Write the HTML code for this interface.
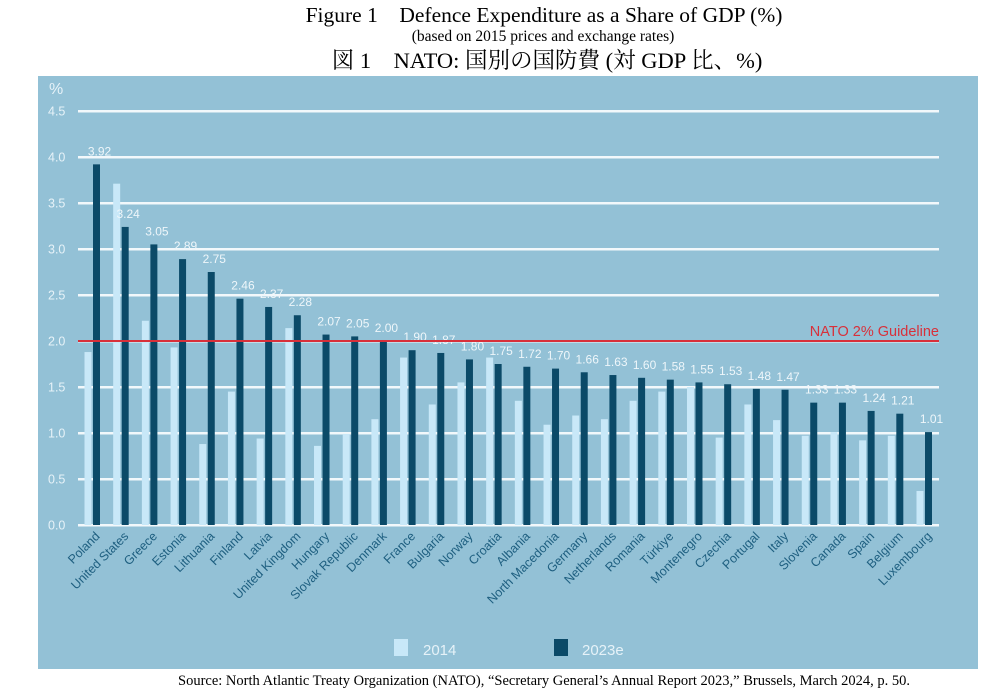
<!DOCTYPE html>
<html><head><meta charset="utf-8"><style>
body{margin:0;background:#fff;width:996px;height:699px;overflow:hidden}
svg{display:block}
</style></head><body>
<svg id="s" width="996" height="699" xmlns="http://www.w3.org/2000/svg">
<text x="544" y="22" text-anchor="middle" font-family="Liberation Serif, serif" font-size="21.5">Figure 1　Defence Expenditure as a Share of GDP (%)</text>
<text x="543" y="41" text-anchor="middle" font-family="Liberation Serif, serif" font-size="15.5">(based on 2015 prices and exchange rates)</text>
<text x="547" y="68" text-anchor="middle" font-family="Liberation Serif, 'Noto Serif CJK SC', serif" font-size="22.5">図 1　NATO: 国別の国防費 (対 GDP 比、%)</text>
<rect x="38" y="76" width="940" height="593" fill="#93c1d6"/>
<g id="g" font-family="Liberation Sans, sans-serif"></g>
<rect x="394" y="639" width="14" height="17" fill="#c8e8f8"/>
<text x="423" y="655" font-family="Liberation Sans, sans-serif" font-size="15" fill="#e6f2f8">2014</text>
<rect x="554" y="639" width="14" height="17" fill="#0b4a68"/>
<text x="582" y="655" font-family="Liberation Sans, sans-serif" font-size="15" fill="#e6f2f8">2023e</text>
<text x="178" y="685" font-family="Liberation Serif, serif" font-size="14.5">Source: North Atlantic Treaty Organization (NATO), “Secretary General’s Annual Report 2023,” Brussels, March 2024, p. 50.</text>
</svg>
<script>
var g=document.getElementById('g'),NS='http://www.w3.org/2000/svg';
function el(t,a,txt){var e=document.createElementNS(NS,t);for(var k in a)e.setAttribute(k,a[k]);if(txt!=null)e.textContent=txt;g.appendChild(e);return e;}
var Y=function(v){return 525-v*92;};
el('text',{x:49,y:94,'font-size':16,fill:'#e6f2f8'},'%');
for(var i=0;i<=9;i++){var v=i*0.5;el('text',{x:48,y:Y(v)+4.5,'font-size':12.5,fill:'#e6f2f8'},v.toFixed(1));
el('rect',{x:78,y:Y(v)-1,width:861,height:2.5,fill:'#f2f8fb'});}
var d=[["Poland",1.88,3.92],["United States",3.71,3.24],["Greece",2.22,3.05],["Estonia",1.93,2.89],["Lithuania",0.88,2.75],["Finland",1.45,2.46],["Latvia",0.94,2.37],["United Kingdom",2.14,2.28],["Hungary",0.86,2.07],["Slovak Republic",0.99,2.05],["Denmark",1.15,2.00],["France",1.82,1.90],["Bulgaria",1.31,1.87],["Norway",1.55,1.80],["Croatia",1.82,1.75],["Albania",1.35,1.72],["North Macedonia",1.09,1.70],["Germany",1.19,1.66],["Netherlands",1.15,1.63],["Romania",1.35,1.60],["Türkiye",1.45,1.58],["Montenegro",1.50,1.55],["Czechia",0.95,1.53],["Portugal",1.31,1.48],["Italy",1.14,1.47],["Slovenia",0.97,1.33],["Canada",1.01,1.33],["Spain",0.92,1.24],["Belgium",0.97,1.21],["Luxembourg",0.37,1.01]];
var n=d.length,step=(928.5-96.5)/(n-1);
d.forEach(function(r,i){var c=96.5+i*step;
el('rect',{x:c-12,y:Y(r[1]),width:7,height:r[1]*92,fill:'#c8e8f8'});
el('rect',{x:c-3.5,y:Y(r[2]),width:7,height:r[2]*92,fill:'#0b4a68'});
el('text',{x:c+3,y:Y(r[2])-9,'font-size':12,fill:'#eef6fa','text-anchor':'middle'},r[2].toFixed(2));
el('text',{x:c+4,y:537,'font-size':12.5,fill:'#1e5f80','text-anchor':'end',transform:'rotate(-45 '+(c+4)+' 537)'},r[0]);
});
el('rect',{x:78,y:340,width:861,height:2,fill:'#d8303a'});
el('text',{x:939,y:336,'font-size':14.5,fill:'#d8303a','text-anchor':'end'},'NATO 2% Guideline');
</script>
</body></html>
